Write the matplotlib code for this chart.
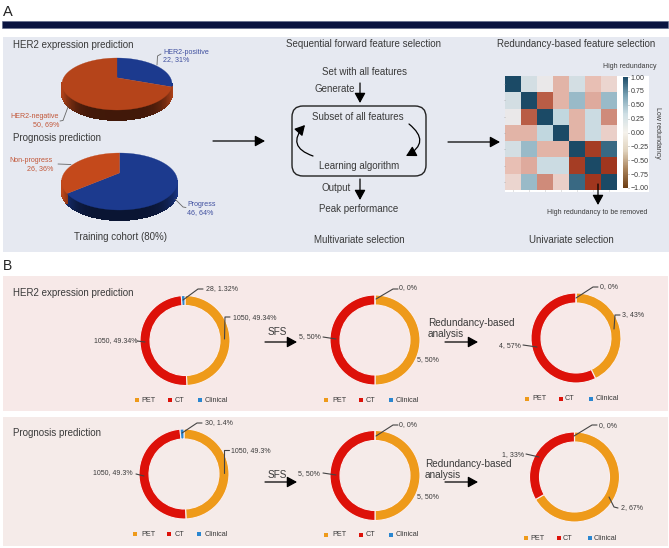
import numpy as np
import matplotlib
matplotlib.use("Agg")
import matplotlib.pyplot as plt
from matplotlib.colors import LinearSegmentedColormap, to_rgb
from matplotlib.patches import Rectangle, FancyBboxPatch
from matplotlib.cm import ScalarMappable
from matplotlib.colors import Normalize

plt.rcParams['font.family'] = ['Liberation Sans', 'DejaVu Sans']

W, H = 669, 548
INK = '#3a3a3a'
PET, CT, CLIN = '#ee9a1a', '#dd1109', '#2a86d0'
BLUE, ORANGE1, ORANGE2 = '#1c3a8e', '#b5441a', '#c4491b'

# ---- data ----
her2_classes = [22, 50]
prog_classes = [46, 26]
features = ['PET', 'CT', 'Clinical']
her2_all = [1050, 1050, 28]
her2_sfs = [5, 5, 0]
her2_red = [3, 4, 0]
prog_all = [1050, 1050, 30]
prog_sfs = [5, 5, 0]
prog_red = [2, 1, 0]
corr = [[1.00, 0.15, 0.02, -0.30, 0.15, -0.25, -0.12],
        [0.15, 1.00, -0.70, -0.30, 0.45, -0.35, 0.45],
        [0.02, -0.70, 1.00, 0.25, -0.30, 0.20, -0.50],
        [-0.30, -0.30, 0.25, 1.00, -0.30, 0.20, -0.15],
        [0.15, 0.45, -0.30, -0.30, 1.00, -0.90, 0.85],
        [-0.25, -0.35, 0.20, 0.20, -0.90, 1.00, -0.95],
        [-0.12, 0.45, -0.50, -0.15, 0.85, -0.95, 1.00]]
cbar_ticks = [1.0, 0.75, 0.5, 0.25, 0.0, -0.25, -0.5, -0.75, -1.0]

fig = plt.figure(figsize=(W / 100, H / 100), dpi=100, facecolor='white')


def px_axes(x0, y0, x1, y1, **kw):
    return fig.add_axes([x0 / W, 1 - y1 / H, (x1 - x0) / W, (y1 - y0) / H], **kw)


bg = px_axes(0, 0, W, H, zorder=0)
bg.set_xlim(0, W); bg.set_ylim(H, 0); bg.axis('off')
ov = px_axes(0, 0, W, H, zorder=5)
ov.set_xlim(0, W); ov.set_ylim(H, 0); ov.axis('off'); ov.patch.set_alpha(0)

# panels
bg.add_patch(Rectangle((2, 21), 666, 7, fc='#0a1440', ec='#5a6486', lw=0.4))
bg.add_patch(Rectangle((3, 37), 666, 215, fc='#e6e9f1', ec='none'))
bg.add_patch(Rectangle((3, 276), 665, 135, fc='#f7e9e8', ec='none'))
bg.add_patch(Rectangle((3, 417), 665, 129, fc='#f5ebe9', ec='none'))
bg.add_patch(Rectangle((505, 76), 144, 116, fc='white', ec='none'))


def txt(x, y, s, size=7.05, ha='left', color=INK, **kw):
    ov.text(x, y, s, fontsize=size, ha=ha, va='center', color=color, **kw)


def line(xs, ys, color='#444444', lw=0.8):
    ov.plot(xs, ys, color=color, lw=lw, solid_capstyle='round', solid_joinstyle='round')


def arrow(x0, y0, x1, y1, color='#333333', lw=0.9, rad=0.0, head=0.6):
    ov.annotate('', xy=(x1, y1), xytext=(x0, y0),
                arrowprops=dict(arrowstyle=f'-|>,head_length={head},head_width={head * 0.55}',
                                color='black', lw=lw, shrinkA=0, shrinkB=0,
                                connectionstyle=f'arc3,rad={rad}'))


def pie3d(values, colors, cx, cy, rx, ry, apex, depth):
    """Perspective pie on the overlay: each wedge's angles come from its value."""
    frac = np.cumsum([0] + list(values)) / sum(values)

    def project(th):
        u, v = np.cos(th), np.sin(th)
        d = 1 + apex * v
        return u * np.sqrt(1 - apex ** 2) / d, (v + apex) / d

    for i, col in enumerate(colors):
        th = np.linspace(np.radians(90 - 360 * frac[i]), np.radians(90 - 360 * frac[i + 1]), 200)
        base = np.array(to_rgb(col))
        u, v = project(th)
        x, y = cx + rx * u, cy - ry * v
        for j in range(len(th) - 1):
            if v[j] <= 0.02 or v[j + 1] <= 0.02:
                shade = 0.36 + 0.6 * abs(u[j]) ** 5
                ov.fill([x[j], x[j + 1], x[j + 1], x[j]], [y[j], y[j + 1], y[j + 1] + depth, y[j] + depth],
                        color=base * shade, lw=0.6, antialiased=False)
    for i, col in enumerate(colors):
        th = np.linspace(np.radians(90 - 360 * frac[i]), np.radians(90 - 360 * frac[i + 1]), 200)
        u, v = project(th)
        ov.fill(np.r_[cx, cx + rx * u], np.r_[cy - ry * apex, cy - ry * v], color=col, lw=0.2)


pie3d(her2_classes, [BLUE, ORANGE1], 117, 84, 55, 26, 0.24, 10)
pie3d(prog_classes, [BLUE, ORANGE2], 119.5, 181.5, 58, 28.5, 0.3, 10)


def donut(cx, cy, vals, r=45):
    ax = px_axes(cx - r - 1, cy - r - 1, cx + r + 1, cy + r + 1, zorder=2)
    ax.pie(vals, colors=[PET, CT, CLIN], startangle=90, counterclock=False, radius=r / (r + 1),
           wedgeprops=dict(width=10 / (r + 1), edgecolor='#fbeeee', linewidth=0.8))
    ax.set_xlim(-1, 1); ax.set_ylim(-1, 1)
    ax.axis('off')


donut(185, 340.5, her2_all)
donut(375, 340, her2_sfs)
donut(576, 338, her2_red)
donut(184, 474, prog_all)
donut(375, 475.5, prog_sfs)
donut(574.5, 477, prog_red)

# heat map and its colour bar
heat_cmap = LinearSegmentedColormap.from_list(
    'heat', ['#9c3018', '#b5533a', '#cf8b7a', '#e8bfb4', '#eeeaea', '#c3d8e0', '#8fb3c3', '#4f7f98', '#1b4a66'])
bar_cmap = LinearSegmentedColormap.from_list(
    'bar', ['#6b3d14', '#a9825a', '#e0d2bd', '#f5f2ec', '#cfdfe5', '#7aa3b5', '#1b4a66'])
hm = px_axes(505, 76, 617, 190, zorder=2)
hm.imshow(np.array(corr), cmap=heat_cmap, vmin=-1, vmax=1, aspect='auto')
hm.set_xticks(range(7)); hm.set_yticks(range(7))
hm.set_xticklabels([]); hm.set_yticklabels([])
hm.tick_params(length=1, width=0.4, color='#999999', pad=0)
for s in hm.spines.values():
    s.set_visible(False)
cax = px_axes(623, 77, 628, 188, zorder=2)
cb = fig.colorbar(ScalarMappable(Normalize(-1, 1), bar_cmap), cax=cax, ticks=cbar_ticks)
cb.ax.set_yticklabels([f'{t:.2f}'.replace('-', '\u2212') for t in cbar_ticks], fontsize=5.1, color=INK)
cb.ax.tick_params(length=1, width=0.4, pad=1, color='#666666')
cb.outline.set_visible(False)

# ---- panel A text ----
txt(3, 12, 'A', size=10.5, color='#222222')
txt(13, 44.5, 'HER2 expression prediction')
txt(13, 138, 'Prognosis prediction')
txt(120, 237, 'Training cohort (80%)', ha='center')
SB, SR = '#3f4f9f', '#c2583a'
txt(163, 52, 'HER2-positive', size=5.1, color=SB)
txt(163, 60, '22, 31%', size=5.1, color=SB)
txt(59, 117, 'HER2-negative', size=5.1, ha='right', color=SR)
txt(59, 125, '50, 69%', size=5.1, ha='right', color=SR)
txt(53, 161, 'Non-progress', size=5.1, ha='right', color=SR)
txt(53, 169, '26, 36%', size=5.1, ha='right', color=SR)
txt(187, 205, 'Progress', size=5.1, color=SB)
txt(187, 213, '46, 64%', size=5.1, color=SB)
line([157, 157.5, 161], [65, 56, 54], '#666666', 0.6)
line([68, 63, 60], [107, 120.5, 121], '#666666', 0.6)
line([58, 71], [164, 164.5], '#666666', 0.6)
line([175, 183, 186], [199, 207, 207.5], '#666666', 0.6)

B = 7.0
txt(364, 44, 'Sequential forward feature selection', size=B, ha='center')
txt(576, 44, 'Redundancy-based feature selection', size=B, ha='center')
txt(365, 72, 'Set with all features', ha='center', size=B)
txt(335, 89, 'Generate', ha='center', size=B)
txt(358, 117, 'Subset of all features', ha='center', size=B)
txt(359, 166, 'Learning algorithm', ha='center', size=B)
txt(336, 188, 'Output', ha='center', size=B)
txt(359, 209, 'Peak performance', ha='center', size=B)
txt(359, 240, 'Multivariate selection', ha='center', size=B)
txt(571, 240, 'Univariate selection', ha='center', size=B)
txt(630, 67, 'High redundancy', size=5.05, ha='center')
txt(597, 213, 'High redundancy to be removed', size=5.05, ha='center')
txt(658, 133, 'Low redundancy', size=5.05, ha='center', rotation=270)
ov.add_patch(FancyBboxPatch((304, 106 + 12), 110, 46, boxstyle='round,pad=12,rounding_size=11',
                            fc='none', ec='#222222', lw=1.0))
arrow(213, 141, 265, 141)
arrow(448, 142, 500, 142)
arrow(360, 83, 360, 103)
arrow(360, 179, 360, 200)
arrow(598, 184, 598, 205)
arrow(313, 156, 305, 125, rad=-0.75)
arrow(409, 124, 406, 156, rad=-0.75)

# ---- panel B text ----
txt(3, 265.5, 'B', size=10, color='#222222')
txt(13, 293, 'HER2 expression prediction')
txt(13, 433, 'Prognosis prediction')
S = 5.0
for x, y, s, ha in [(206, 289, '28, 1.32%', 'left'), (233, 318, '1050, 49.34%', 'left'),
                    (137, 341, '1050, 49.34%', 'right'), (299, 337, '5, 50%', 'left'),
                    (399, 288, '0, 0%', 'left'), (417, 360, '5, 50%', 'left'),
                    (600, 287, '0, 0%', 'left'), (622, 315, '3, 43%', 'left'),
                    (521, 346, '4, 57%', 'right'),
                    (205, 423, '30, 1.4%', 'left'), (231, 451, '1050, 49.3%', 'left'),
                    (133, 473, '1050, 49.3%', 'right'), (298, 474, '5, 50%', 'left'),
                    (399, 425, '0, 0%', 'left'), (417, 497, '5, 50%', 'left'),
                    (599, 426, '0, 0%', 'left'), (524, 455, '1, 33%', 'right'),
                    (621, 508, '2, 67%', 'left')]:
    txt(x, y, s, size=S, ha=ha)
for xs, ys in [([183, 198, 203], [300, 289, 289]), ([230, 225, 224.5], [317, 317, 339]),
               ([137, 145], [341, 342]), ([323, 336], [337, 339]),
               ([376, 393, 398], [299, 289, 289]), ([576, 593, 598], [298, 287, 287]),
               ([620, 615, 614], [315, 315, 329]), ([523, 537], [345, 347]),
               ([182, 197, 202], [433, 423, 423]), ([229, 224, 224], [450, 450, 473]),
               ([136, 144], [474, 476]), ([323, 336], [473, 475]),
               ([376, 393, 398], [436, 425, 425]), ([574, 592, 597], [436, 425, 425]),
               ([526, 539], [454, 457]), ([609, 614, 618], [497, 507, 508])]:
    line(xs, ys)
for cx, y in [(277, 332), (277, 475)]:
    txt(cx, y, 'SFS', size=7.2, ha='center')
for y in (342, 482):
    arrow(265, y, 297, y)
    arrow(445, y, 478, y)
txt(428, 323, 'Redundancy-based', size=7.2)
txt(428, 334, 'analysis', size=7.2)
txt(425, 464, 'Redundancy-based', size=7.2)
txt(425, 475, 'analysis', size=7.2)


def legend(y, squares, labels):
    for name, col, sx, tx in zip(features, [PET, CT, CLIN], squares, labels):
        ov.scatter([sx], [y], marker='s', s=8, color=col, lw=0)
        txt(tx, y, name, size=5.2)


legend(400, (137, 170, 200), (141, 175, 205))
legend(400, (326, 361, 391), (332, 366, 396))
legend(399, (527, 561, 591), (532, 565, 596))
legend(534, (135, 169, 199), (141, 175, 205))
legend(535, (326, 361, 391), (332, 366, 396))
legend(538, (526, 559, 590), (530, 563, 594))

fig.savefig('out.png', dpi=100)
